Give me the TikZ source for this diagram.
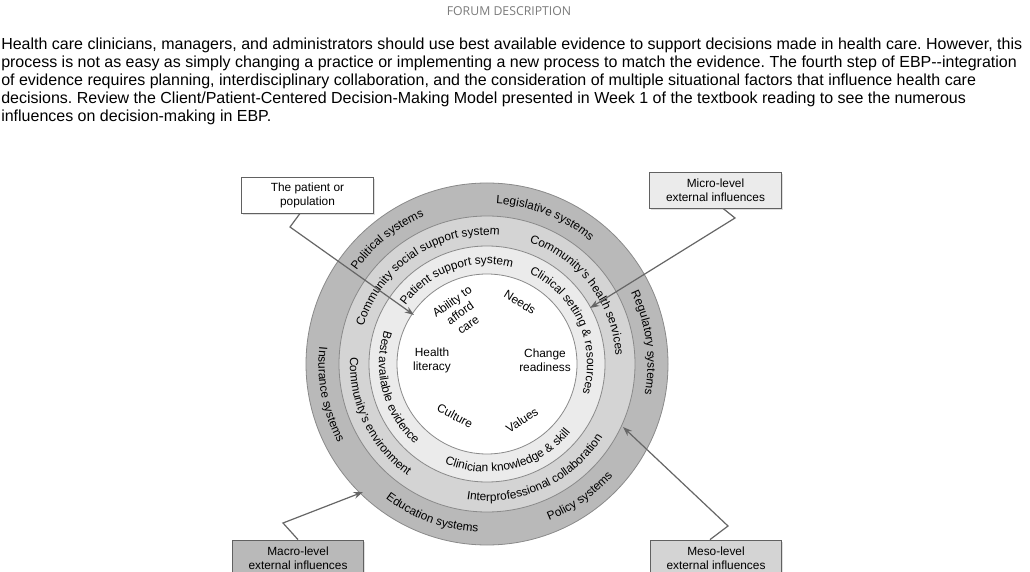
\documentclass[tikz,border=0pt]{standalone}
\usepackage{fontspec}
\setmainfont{Liberation Sans}
\newfontfamily\hdrfont{Open Sans}
\usetikzlibrary{arrows.meta,decorations.text,calc,shadows}
\definecolor{ringA}{HTML}{B9B9B9}
\definecolor{ringB}{HTML}{D4D4D4}
\definecolor{ringC}{HTML}{EBEBEB}
\definecolor{edgegray}{HTML}{8A8A8A}
\definecolor{arrowgray}{HTML}{666666}
\definecolor{hdrgray}{HTML}{7A7A7A}
\frenchspacing
\newcommand\dfont{\fontsize{8.9}{10.5}\selectfont}
\newcommand\ringcw[3]{\path[decorate,decoration={text along path,text align=center,text={|\dfont|#3}}] ($(C)+({#2+75}:#1)$) arc[start angle={#2+75},end angle={#2-75},radius=#1];}
\newcommand\ringccw[3]{\path[decorate,decoration={text along path,text align=center,text={|\dfont|#3}}] ($(C)+({#2-75}:#1)$) arc[start angle={#2-75},end angle={#2+75},radius=#1];}
\begin{document}
\begin{tikzpicture}[x=0.75pt,y=0.75pt,
  para/.style={anchor=base west,inner sep=0pt,font=\fontsize{12}{13.5}\selectfont},
  ringline/.style={draw=edgegray,line width=0.6pt},
  boxst/.style={draw=edgegray!70!black,line width=0.6pt,minimum width=98.5pt,minimum height=27pt,inner sep=0pt,align=center,font=\dfont,drop shadow={shadow xshift=1.2pt,shadow yshift=-1.2pt,opacity=0.25}},
  conn/.style={draw=arrowgray,line width=0.9pt,-{Stealth[length=7pt,width=5pt]},line join=miter},
  inner/.style={font=\dfont,align=center,inner sep=0pt}]
\useasboundingbox (0,0) rectangle (1030,571);
\clip (0,0) rectangle (1030,571);
\fill[white] (0,0) rectangle (1030,571);

% header and paragraph
\node[anchor=base,inner sep=0pt,font=\hdrfont\fontsize{9.2}{11}\selectfont,text=hdrgray] (hdr) at (509,555) {FORUM DESCRIPTION};
\node[para] (p1) at (1,521) {Health care clinicians, managers, and administrators should use best available evidence to support decisions made in health care. However, this};
\node[para] (p2) at (1,503) {process is not as easy as simply changing a practice or implementing a new process to match the evidence. The fourth step of EBP-{}-integration};
\node[para] (p3) at (1,485) {of evidence requires planning, interdisciplinary collaboration, and the consideration of multiple situational factors that influence health care};
\node[para] (p4) at (1,467) {decisions. Review the Client/Patient-Centered Decision-Making Model presented in Week 1 of the textbook reading to see the numerous};
\node[para] (p5) at (1,449) {influences on decision-making in EBP.};

% rings
\coordinate (C) at (487,207);
\filldraw[fill=ringA,ringline] (C) circle[radius=181];
\filldraw[fill=ringB,ringline] (C) circle[radius=148];
\filldraw[fill=ringC,ringline] (C) circle[radius=118];
\filldraw[fill=white,ringline] (C) circle[radius=90];

% outer ring labels
\ringcw{160.5}{128.7}{Political systems}
\ringcw{160.5}{68.4}{Legislative systems}
\ringcw{160.5}{7.7}{Regulatory systems}
\ringccw{168.5}{305}{Policy systems}
\ringccw{168.5}{250}{Education systems}
\ringccw{168.5}{191}{Insurance systems}
% middle ring labels
\ringcw{129}{123.8}{Community social support system}
\ringcw{129}{37.3}{Community's health services}
\ringccw{137}{294.5}{Interprofessional collaboration}
\ringccw{137}{205.9}{Community's environment}
% inner ring labels
\ringcw{100}{109.9}{Patient support system}
\ringcw{100}{24}{Clinical setting {\&} resources}
\ringccw{108}{283.8}{Clinician knowledge {\&} skill}
\ringccw{108}{195}{Best available evidence}

% centre texts
\node[inner,rotate=35] (afford) at (460,258) {Ability to\\afford\\care};
\node[inner,rotate=-32] (needs) at (520,269) {Needs};
\node[inner] (hlit) at (432,211) {Health\\literacy};
\node[inner] (chg) at (545,211) {Change\\readiness};
\node[inner,rotate=-28] (cult) at (455,155) {Culture};
\node[inner,rotate=33] (vals) at (522,151) {Values};

% boxes
\node[boxst,fill=white] (pat) at (307.5,376) {The patient or\\population};
\node[boxst,fill=ringC] (mic) at (715.5,381) {Micro-level\\external influences};
\node[boxst,fill=ringA] (mac) at (298,13) {Macro-level\\external influences};
\node[boxst,fill=ringB] (mes) at (716,13) {Meso-level\\external influences};

% connectors
\coordinate (pb) at (290,344);
\coordinate (ptip) at (414,256);
\coordinate (mib) at (735,353);
\coordinate (mitip) at (590,263);
\coordinate (mab) at (283,48);
\coordinate (matip) at (363,79);
\coordinate (meb) at (728,45);
\coordinate (metip) at (623,144);
\draw[conn] ([xshift=-5.6pt]pat.south) -- (pb) -- (ptip);
\draw[conn] ([xshift=5.6pt]mic.south) -- (mib) -- (mitip);
\draw[conn] (mac.north) -- (mab) -- (matip);
\draw[conn] ([xshift=-4.5pt]mes.north) -- (meb) -- (metip);
\end{tikzpicture}
\end{document}
